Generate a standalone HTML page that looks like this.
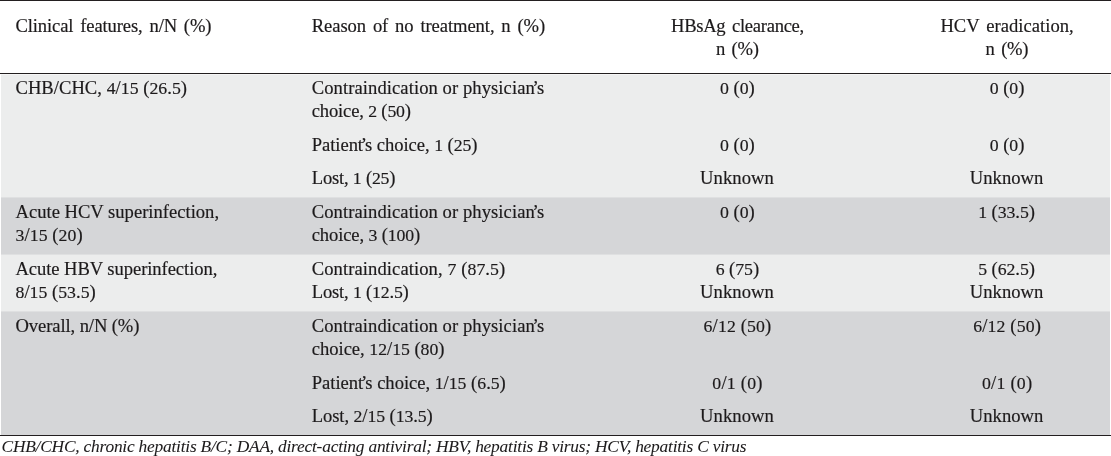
<!DOCTYPE html>
<html><head><meta charset="utf-8"><title>Table</title>
<style>
html,body{margin:0;padding:0;background:#fff;}
body{width:1111px;height:456px;position:relative;overflow:hidden;font-family:"Liberation Serif",serif;color:#1c1a1b;}
.b{position:absolute;left:1px;right:1px;}
.l{position:absolute;left:0;right:0;height:1px;background:#231f20;}
.t{position:absolute;white-space:pre;font-size:18.6px;line-height:24px;height:24px;-webkit-text-stroke:0.18px #231f20;}
.f{font-style:italic;font-size:17.4px;-webkit-text-stroke-width:0.05px;}
.d{font-size:17.76px;}
.ap{margin-left:-2.3px;margin-right:-1.8px;}
</style></head><body>
<div class="b" style="top:74px;height:1px;background:#f6f6f6"></div>
<div class="b" style="top:75px;height:122px;background:#eceded"></div>
<div class="b" style="top:197px;height:1px;background:#dfe0e1"></div>
<div class="b" style="top:198px;height:56px;background:#d5d6d8"></div>
<div class="b" style="top:254px;height:1px;background:#dfe0e1"></div>
<div class="b" style="top:255px;height:56px;background:#eceded"></div>
<div class="b" style="top:311px;height:1px;background:#dfe0e1"></div>
<div class="b" style="top:312px;height:123px;background:#d5d6d8"></div>
<div class="l" style="top:0"></div>
<div class="l" style="top:73px"></div>
<div class="l" style="top:435px"></div>

<div class="t" style="left:15.50px;top:14.12px;letter-spacing:-0.121px;word-spacing:2.300px;">Clinical features, n/N (%)</div>
<div class="t" style="left:311.75px;top:14.12px;letter-spacing:-0.077px;word-spacing:2.300px;">Reason of no treatment, n (%)</div>
<div class="t" style="left:671.05px;top:14.12px;letter-spacing:-0.294px;word-spacing:2.300px;">HBsAg clearance,</div>
<div class="t" style="left:715.92px;top:36.72px;letter-spacing:-0.294px;word-spacing:2.300px;">n (%)</div>
<div class="t" style="left:940.40px;top:14.12px;letter-spacing:0.014px;word-spacing:2.300px;">HCV eradication,</div>
<div class="t" style="left:985.52px;top:36.72px;letter-spacing:-0.294px;word-spacing:2.300px;">n (%)</div>
<div class="t" style="left:15.50px;top:75.92px;letter-spacing:0.022px;">CHB/CHC, <span class="d">4</span>/<span class="d">15</span> (<span class="d">26</span>.<span class="d">5</span>)</div>
<div class="t" style="left:311.75px;top:75.92px;letter-spacing:0.072px;">Contraindication or physician<span class="ap">’</span>s</div>
<div class="t" style="left:311.75px;top:98.92px;letter-spacing:-0.175px;">choice, <span class="d">2</span> (<span class="d">50</span>)</div>
<div class="t" style="left:311.75px;top:132.72px;letter-spacing:-0.060px;">Patient<span class="ap">’</span>s choice, <span class="d">1</span> (<span class="d">25</span>)</div>
<div class="t" style="left:311.75px;top:165.72px;letter-spacing:-0.211px;">Lost, <span class="d">1</span> (<span class="d">25</span>)</div>
<div class="t" style="left:720.05px;top:75.92px;letter-spacing:-0.023px;"><span class="d">0</span> (<span class="d">0</span>)</div>
<div class="t" style="left:720.05px;top:132.72px;letter-spacing:-0.023px;"><span class="d">0</span> (<span class="d">0</span>)</div>
<div class="t" style="left:700.10px;top:165.72px;letter-spacing:0.059px;">Unknown</div>
<div class="t" style="left:989.65px;top:75.92px;letter-spacing:-0.023px;"><span class="d">0</span> (<span class="d">0</span>)</div>
<div class="t" style="left:989.65px;top:132.72px;letter-spacing:-0.023px;"><span class="d">0</span> (<span class="d">0</span>)</div>
<div class="t" style="left:969.70px;top:165.72px;letter-spacing:0.059px;">Unknown</div>
<div class="t" style="left:15.50px;top:199.92px;letter-spacing:-0.003px;">Acute HCV superinfection,</div>
<div class="t" style="left:15.50px;top:222.72px;letter-spacing:0.077px;"><span class="d">3</span>/<span class="d">15</span> (<span class="d">20</span>)</div>
<div class="t" style="left:311.75px;top:199.92px;letter-spacing:0.072px;">Contraindication or physician<span class="ap">’</span>s</div>
<div class="t" style="left:311.75px;top:222.72px;letter-spacing:-0.136px;">choice, <span class="d">3</span> (<span class="d">100</span>)</div>
<div class="t" style="left:720.05px;top:199.92px;letter-spacing:-0.023px;"><span class="d">0</span> (<span class="d">0</span>)</div>
<div class="t" style="left:978.15px;top:199.92px;letter-spacing:-0.070px;"><span class="d">1</span> (<span class="d">33</span>.<span class="d">5</span>)</div>
<div class="t" style="left:15.50px;top:256.92px;letter-spacing:-0.075px;">Acute HBV superinfection,</div>
<div class="t" style="left:15.50px;top:279.72px;letter-spacing:0.010px;"><span class="d">8</span>/<span class="d">15</span> (<span class="d">53</span>.<span class="d">5</span>)</div>
<div class="t" style="left:311.75px;top:256.92px;letter-spacing:0.080px;">Contraindication, <span class="d">7</span> (<span class="d">87</span>.<span class="d">5</span>)</div>
<div class="t" style="left:311.75px;top:279.72px;letter-spacing:-0.199px;">Lost, <span class="d">1</span> (<span class="d">12</span>.<span class="d">5</span>)</div>
<div class="t" style="left:715.70px;top:256.92px;letter-spacing:-0.053px;"><span class="d">6</span> (<span class="d">75</span>)</div>
<div class="t" style="left:700.10px;top:279.72px;letter-spacing:0.059px;">Unknown</div>
<div class="t" style="left:978.15px;top:256.92px;letter-spacing:-0.070px;"><span class="d">5</span> (<span class="d">62</span>.<span class="d">5</span>)</div>
<div class="t" style="left:969.70px;top:279.72px;letter-spacing:0.059px;">Unknown</div>
<div class="t" style="left:15.50px;top:313.92px;letter-spacing:-0.101px;">Overall, n/N (%)</div>
<div class="t" style="left:311.75px;top:313.92px;letter-spacing:0.072px;">Contraindication or physician<span class="ap">’</span>s</div>
<div class="t" style="left:311.75px;top:336.92px;letter-spacing:-0.034px;">choice, <span class="d">12</span>/<span class="d">15</span> (<span class="d">80</span>)</div>
<div class="t" style="left:311.75px;top:370.72px;letter-spacing:-0.025px;">Patient<span class="ap">’</span>s choice, <span class="d">1</span>/<span class="d">15</span> (<span class="d">6</span>.<span class="d">5</span>)</div>
<div class="t" style="left:311.75px;top:403.72px;letter-spacing:-0.094px;">Lost, <span class="d">2</span>/<span class="d">15</span> (<span class="d">13</span>.<span class="d">5</span>)</div>
<div class="t" style="left:703.60px;top:313.92px;letter-spacing:0.127px;"><span class="d">6</span>/<span class="d">12</span> (<span class="d">50</span>)</div>
<div class="t" style="left:712.30px;top:370.72px;letter-spacing:0.228px;"><span class="d">0</span>/<span class="d">1</span> (<span class="d">0</span>)</div>
<div class="t" style="left:700.10px;top:403.72px;letter-spacing:0.059px;">Unknown</div>
<div class="t" style="left:973.20px;top:313.92px;letter-spacing:0.127px;"><span class="d">6</span>/<span class="d">12</span> (<span class="d">50</span>)</div>
<div class="t" style="left:981.90px;top:370.72px;letter-spacing:0.228px;"><span class="d">0</span>/<span class="d">1</span> (<span class="d">0</span>)</div>
<div class="t" style="left:969.70px;top:403.72px;letter-spacing:0.059px;">Unknown</div>
<div class="t f" style="left:1.50px;top:434.13px;letter-spacing:-0.224px;">CHB/CHC, chronic hepatitis B/C; DAA, direct-acting antiviral; HBV, hepatitis B virus; HCV, hepatitis C virus</div>
</body></html>
